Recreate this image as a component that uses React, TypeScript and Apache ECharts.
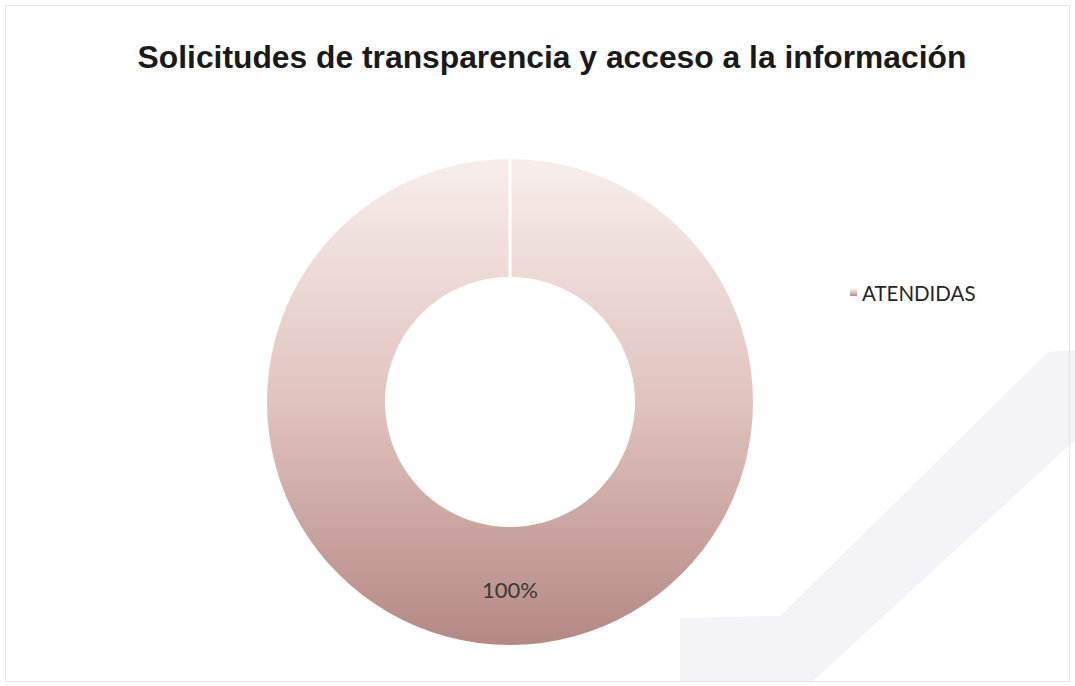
import React, { useEffect, useRef } from "react";
import * as echarts from "echarts";

const titleText = "Solicitudes de transparencia y acceso a la información";
const categories = ["ATENDIDAS"];
const values = [100];

export default function App() {
  const ref = useRef<HTMLDivElement>(null);
  useEffect(() => {
    if (!ref.current) return;
    const chart = echarts.init(ref.current, null, { renderer: "svg" });
    chart.setOption({
      animation: false,
      backgroundColor: "#ffffff",
      title: {
        text: titleText,
        top: 36,
        left: 547,
        textAlign: "center",
        textStyle: {
          fontFamily: "Liberation Sans, Arial, sans-serif",
          fontWeight: "bold",
          fontSize: 31.8,
          color: "#1a1a1a",
        },
      },
      legend: {
        left: 845,
        top: 277,
        orient: "vertical",
        icon: "rect",
        itemWidth: 7,
        itemHeight: 7,
        itemGap: 10,
        textStyle: {
          fontFamily: "Lato, Open Sans, sans-serif",
          fontSize: 20.5,
          color: "#262626",
        },
        data: categories,
      },
      graphic: [
        {
          type: "polygon",
          silent: true,
          z: -10,
          shape: {
            points: [
              [680, 682],
              [680, 618],
              [780, 616],
              [1048, 352],
              [1075, 350],
              [1075, 440],
              [812, 682],
            ],
          },
          style: { fill: "#f3f3f8" },
        },
        {
          type: "rect",
          silent: true,
          z: -5,
          shape: { x: 5.5, y: 5.5, width: 1064, height: 676 },
          style: { fill: "none", stroke: "#e6e6e6", lineWidth: 1 },
        },
        {
          type: "line",
          silent: true,
          z: 100,
          shape: { x1: 510, y1: 156, x2: 510, y2: 280 },
          style: { stroke: "#ffffff", lineWidth: 3 },
        },
      ],
      series: [
        {
          type: "pie",
          center: [510, 402],
          radius: [125, 243],
          startAngle: 90,
          clockwise: true,
          label: {
            show: true,
            position: "inside",
            formatter: "{d}%",
            fontFamily: "Lato, Open Sans, sans-serif",
            fontSize: 22,
            color: "#3a3a3a",
          },
          labelLine: { show: false },
          emphasis: { disabled: true },
          itemStyle: {
            color: new echarts.graphic.LinearGradient(0, 0, 0, 1, [
              { offset: 0, color: "#f7eeec" },
              { offset: 0.5, color: "#e1c3be" },
              { offset: 1, color: "#b48884" },
            ]),
          },
          data: categories.map((c, i) => ({ name: c, value: values[i] })),
        },
      ],
    });
    return () => chart.dispose();
  }, []);
  return (
    <div
      ref={ref}
      style={{ position: "fixed", left: 0, top: 0, width: 1075, height: 686 }}
    />
  );
}
